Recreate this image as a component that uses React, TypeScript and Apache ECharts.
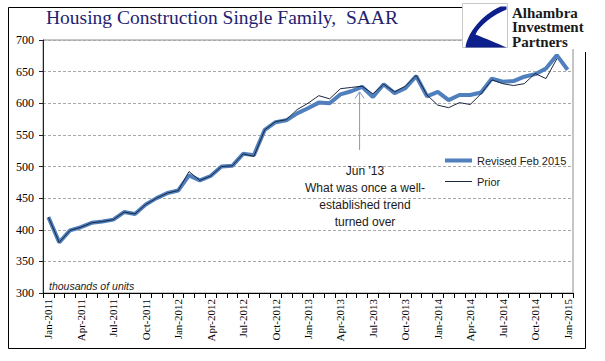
import React, { useEffect, useRef } from 'react';
import * as echarts from 'echarts';

const categories = [
  'Jan-2011','Feb-2011','Mar-2011','Apr-2011','May-2011','Jun-2011','Jul-2011','Aug-2011','Sep-2011','Oct-2011','Nov-2011','Dec-2011',
  'Jan-2012','Feb-2012','Mar-2012','Apr-2012','May-2012','Jun-2012','Jul-2012','Aug-2012','Sep-2012','Oct-2012','Nov-2012','Dec-2012',
  'Jan-2013','Feb-2013','Mar-2013','Apr-2013','May-2013','Jun-2013','Jul-2013','Aug-2013','Sep-2013','Oct-2013','Nov-2013','Dec-2013',
  'Jan-2014','Feb-2014','Mar-2014','Apr-2014','May-2014','Jun-2014','Jul-2014','Aug-2014','Sep-2014','Oct-2014','Nov-2014','Dec-2014',
  'Jan-2015',
];

const revised = [
  420, 380, 399, 404, 411, 413, 416, 428, 425, 440, 450, 458,
  462, 486, 478, 485, 500, 501, 520, 518, 558, 570, 573, 584,
  592, 601, 600, 614, 619, 626, 610, 630, 616, 624, 643, 611,
  618, 605, 613, 613, 617, 639, 634, 635, 642, 646, 655, 676,
  653,
];

const prior = [
  420, 380, 399, 404, 411, 413, 416, 428, 425, 440, 450, 458,
  462, 492, 478, 485, 500, 501, 520, 516, 558, 571, 574, 590,
  600, 612, 607, 623, 625, 627, 615, 630, 618, 627, 644, 613,
  597, 593, 601, 598, 615, 637, 631, 628, 631, 647, 639, 670,
];

const seriesNames = ['Revised Feb 2015', 'Prior'];
const annotationText = "Jun '13\nWhat was once a well-\nestablished trend\nturned over";
const annotationCategory = 'Jun-2013';
const logoLines = ['Alhambra', 'Investment', 'Partners'];

const logoPath =
  'M38 3 L44 3 L44 6 C31 11 17 22 13 31 C23 35 35 40 44 44 L3 44 C5 30 18 12 38 3 Z';

export default function App() {
  const ref = useRef<HTMLDivElement>(null);

  useEffect(() => {
    const el = ref.current;
    if (!el) return;
    echarts.graphic.registerShape('aipLogo', echarts.graphic.extendPath(logoPath, {}));
    const chart = echarts.init(el, null, { renderer: 'svg' });

    const legendText = { fontFamily: 'Liberation Sans', fontSize: 11, color: '#222' };

    const option: any = {
      animation: false,
      backgroundColor: '#ffffff',
      grid: {
        left: 43,
        right: 32,
        top: 40,
        bottom: 68,
        show: true,
        borderColor: '#8c8c8c',
        borderWidth: 1,
        containLabel: false,
      },
      legend: [
        {
          orient: 'vertical',
          left: 440,
          top: 150,
          itemWidth: 27,
          itemHeight: 4,
          itemGap: 2,
          icon: 'rect',
          textStyle: legendText,
          data: [seriesNames[0]],
        },
        {
          orient: 'vertical',
          left: 440,
          top: 171,
          itemWidth: 27,
          itemHeight: 1,
          itemGap: 2,
          icon: 'rect',
          textStyle: legendText,
          data: [seriesNames[1]],
        },
      ],
      xAxis: {
        type: 'category',
        data: categories,
        boundaryGap: true,
        axisLine: { lineStyle: { color: '#000', width: 1 } },
        axisTick: { show: true, interval: 0, length: 5, lineStyle: { color: '#000' } },
        axisLabel: {
          interval: 2,
          rotate: 90,
          margin: 6,
          fontFamily: 'Liberation Serif',
          fontSize: 11,
          color: '#000',
        },
        splitLine: { show: false },
      },
      yAxis: {
        type: 'value',
        min: 300,
        max: 700,
        interval: 50,
        axisLine: { show: true, lineStyle: { color: '#222', width: 1 } },
        axisTick: { show: true, length: 4, lineStyle: { color: '#222' } },
        axisLabel: { fontFamily: 'Liberation Serif', fontSize: 12, color: '#000', margin: 9 },
        splitLine: { show: true, lineStyle: { type: [3, 2], color: '#a8a8a8', width: 1 } },
      },
      series: [
        {
          name: seriesNames[0],
          type: 'line',
          data: revised,
          symbol: 'none',
          lineStyle: { width: 4, color: '#4f7fbc' },
          itemStyle: { color: '#4f7fbc' },
          z: 2,
        },
        {
          name: seriesNames[1],
          type: 'line',
          data: prior,
          symbol: 'none',
          lineStyle: { width: 1, color: '#1b2740' },
          itemStyle: { color: '#1b2740' },
          z: 3,
        },
      ],
    };
    chart.setOption(option);

    const [ax, tipY] = chart.convertToPixel({ gridIndex: 0 }, [annotationCategory, 618]) as number[];
    const [, baseY] = chart.convertToPixel({ gridIndex: 0 }, [annotationCategory, 526]) as number[];
    const arrowX = ax - 2.5;

    const logoTexts = logoLines.map((t, i) => ({
      type: 'text',
      z: 102,
      x: 512,
      y: 12.5 + i * 14.7,
      style: {
        text: t,
        fontFamily: 'Liberation Serif',
        fontWeight: 'bold',
        fontSize: 15,
        fill: '#1a1a1a',
        verticalAlign: 'middle',
      },
    }));

    chart.setOption({
      graphic: [
        {
          type: 'polyline',
          z: 50,
          shape: { points: [[462, 7.5], [8.5, 7.5], [8.5, 348.5], [585.5, 348.5], [585.5, 52]] },
          style: { stroke: '#000', lineWidth: 1, fill: null },
        },
        {
          type: 'text',
          z: 50,
          x: 46,
          y: 17,
          style: {
            text: 'Housing Construction Single Family,  SAAR',
            fontFamily: 'Liberation Serif',
            fontSize: 19.5,
            fill: '#1f2270',
            verticalAlign: 'middle',
          },
        },
        {
          type: 'rect',
          z: 100,
          shape: { x: 462, y: 2, width: 128, height: 47 },
          style: { fill: '#fff', stroke: null },
        },
        {
          type: 'rect',
          z: 101,
          shape: { x: 462.5, y: 3.5, width: 45, height: 44 },
          style: { fill: '#fff', stroke: '#c8c8c8', lineWidth: 1 },
        },
        {
          type: 'aipLogo',
          z: 102,
          x: 462.5,
          y: 3.5,
          scaleX: 1,
          scaleY: 1,
          style: { fill: '#0d1f8a', stroke: null },
        },
        ...logoTexts,
        {
          type: 'text',
          z: 50,
          x: 49,
          y: 286,
          style: {
            text: 'thousands of units',
            fontFamily: 'Liberation Sans',
            fontStyle: 'italic',
            fontSize: 10.5,
            fill: '#222',
            verticalAlign: 'middle',
          },
        },
        {
          type: 'text',
          z: 50,
          x: 365,
          y: 162,
          style: {
            text: annotationText,
            fontFamily: 'Liberation Sans',
            fontSize: 12,
            lineHeight: 17,
            align: 'center',
            fill: '#1a1a1a',
          },
        },
        {
          type: 'line',
          z: 50,
          shape: { x1: arrowX, y1: baseY, x2: arrowX, y2: tipY },
          style: { stroke: '#7f9dc6', lineWidth: 1 },
        },
        {
          type: 'polyline',
          z: 50,
          shape: { points: [[arrowX - 4.5, tipY + 6.5], [arrowX, tipY], [arrowX + 4.5, tipY + 6.5]] },
          style: { stroke: '#7f9dc6', lineWidth: 1, fill: null },
        },
      ],
    });

    return () => {
      chart.dispose();
    };
  }, []);

  return (
    <div
      ref={ref}
      style={{ position: 'fixed', left: 0, top: 0, width: 605, height: 361, background: '#fff' }}
    />
  );
}
